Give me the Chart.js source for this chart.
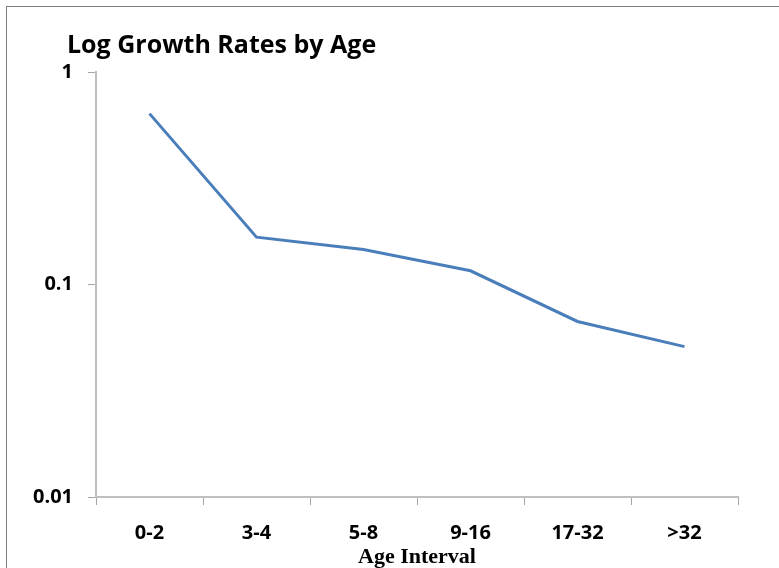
<!DOCTYPE html>
<html>
<head>
<meta charset="utf-8">
<title>Log Growth Rates by Age</title>
<script src="https://cdn.jsdelivr.net/npm/chart.js@4/dist/chart.umd.min.js"></script>
<style>
  html, body { margin: 0; padding: 0; background: #fff; }
  #wrap { position: relative; width: 779px; height: 568px; overflow: hidden; }
  #frame { position: absolute; left: 6px; top: 6px; right: -2px; bottom: -2px; border-left: 1px solid #7f7f7f; border-top: 1px solid #7f7f7f; pointer-events: none; }
  canvas { position: absolute; left: 0; top: 0; }
</style>
</head>
<body>
<div id="wrap">
  <canvas id="chart" width="779" height="568"></canvas>
  <div id="frame"></div>
</div>
<script>
// Age groups and growth rates (log scale)
const ageIntervals = ['0-2', '3-4', '5-8', '9-16', '17-32', '>32'];
const growthRates = [0.637, 0.167, 0.146, 0.116, 0.067, 0.051];
const yTickValues = [0.01, 0.1, 1];
const yTickLabels = ['0.01', '0.1', '1'];

const chartTitle = 'Log Growth Rates by Age';
const xAxisTitle = 'Age Interval';
const labelFont = '"Open Sans"';

// Title drawn at a fixed spot, left-anchored above the plot
const titlePlugin = {
  id: 'fixedTitle',
  afterDraw(chart) {
    const ctx = chart.ctx;
    ctx.save();
    ctx.font = 'bold 25px "Open Sans"';
    ctx.fillStyle = '#000';
    ctx.textBaseline = 'alphabetic';
    ctx.textAlign = 'left';
    ctx.fillText(chartTitle, 67, 53);
    ctx.restore();
  }
};

new Chart(document.getElementById('chart'), {
  type: 'line',
  data: {
    labels: ageIntervals,
    datasets: [{
      data: growthRates,
      borderColor: '#4a7ebb',
      borderWidth: 3,
      pointRadius: 0,
      tension: 0,
      fill: false
    }]
  },
  options: {
    responsive: false,
    animation: false,
    layout: { padding: { top: 72, right: 41, bottom: 0, left: 0 } },
    plugins: {
      legend: { display: false },
      title: { display: false },
      tooltip: { enabled: false }
    },
    scales: {
      x: {
        type: 'category',
        offset: true,
        grid: {
          offset: true,
          drawOnChartArea: false,
          drawTicks: true,
          tickLength: 8,
          color: '#a6a6a6',
          lineWidth: 1
        },
        border: { color: '#bfbfbf', width: 2 },
        ticks: {
          color: '#000',
          font: { family: labelFont, weight: 'bold', size: 20 },
          padding: 16,
          maxRotation: 0
        },
        title: {
          display: true,
          text: xAxisTitle,
          color: '#000',
          font: { family: '"Liberation Serif"', weight: 'bold', size: 22, lineHeight: 1 },
          padding: { top: 0, bottom: 0 }
        },
        afterFit(scale) { scale.height = 71; }
      },
      y: {
        type: 'logarithmic',
        min: 0.01,
        max: 1,
        afterBuildTicks(scale) {
          scale.ticks = yTickValues.map(v => ({ value: v }));
        },
        grid: {
          drawOnChartArea: false,
          drawTicks: true,
          tickLength: 8,
          color: '#a6a6a6',
          lineWidth: 1
        },
        border: { color: '#bfbfbf', width: 2 },
        ticks: {
          color: '#000',
          font: { family: labelFont, weight: 'bold', size: 20 },
          padding: 15,
          callback(value) {
            const i = yTickValues.findIndex(v => Math.abs(v - value) < 1e-9);
            return i >= 0 ? yTickLabels[i] : '';
          }
        },
        afterFit(scale) { scale.width = 96; }
      }
    }
  },
  plugins: [titlePlugin]
});
</script>
</body>
</html>
